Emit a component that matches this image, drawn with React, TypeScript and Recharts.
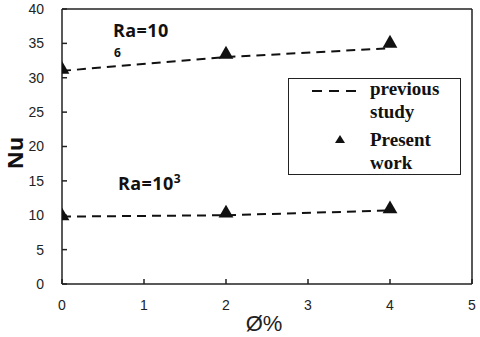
import React from 'react';
import { ComposedChart, Line, Scatter, XAxis, YAxis, ZAxis, ReferenceLine, Customized, Label } from 'recharts';

const phi = [0, 2, 4];
const prevRa6 = [31.0, 33.0, 34.3];
const presRa6 = [31.2, 33.4, 35.0];
const prevRa3 = [9.8, 10.0, 10.7];
const presRa3 = [9.9, 10.3, 10.9];
const xTicks = [0, 1, 2, 3, 4, 5];
const yTicks = [0, 5, 10, 15, 20, 25, 30, 35, 40];
const legendLabels = [['previous', 'study'], ['Present', 'work']];

const toRows = (ys: number[]) => phi.map((x, i) => ({ x, y: ys[i] }));

const axisColor = '#222';
const tickFont = { fontFamily: 'Liberation Sans, Arial, sans-serif', fontSize: 14, fill: '#222' };

const LegendBox = () => (
  <div
    style={{
      position: 'absolute',
      left: 288,
      top: 78,
      width: 173,
      height: 97,
      border: '1.5px solid #222',
      boxSizing: 'border-box',
      background: '#fff',
      fontFamily: 'Liberation Serif, Times New Roman, serif',
      fontWeight: 'bold',
      fontSize: 19,
      color: '#111',
    }}
  >
    <svg width={80} height={95} style={{ position: 'absolute', left: 0, top: 0 }}>
      <line x1={23} x2={70} y1={12} y2={12} stroke="#111" strokeWidth={2} strokeDasharray="10 7" />
      <path d="M51,56 L56,64 L46,64 Z" fill="#111" />
    </svg>
    <div style={{ position: 'absolute', left: 81, top: -2, lineHeight: '23px' }}>
      {legendLabels[0][0]}
      <br />
      {legendLabels[0][1]}
    </div>
    <div style={{ position: 'absolute', left: 81, top: 49, lineHeight: '23px' }}>
      {legendLabels[1][0]}
      <br />
      {legendLabels[1][1]}
    </div>
  </div>
);

const Annotations = () => (
  <g fontFamily="Open Sans, Liberation Sans, sans-serif" fontWeight="bold" fill="#111">
    <text x={113} y={37} fontSize={18} letterSpacing={0.4}>Ra=10</text>
    <text x={114} y={57} fontSize={12}>6</text>
    <text x={118} y={190} fontSize={18} letterSpacing={0.4}>
      Ra=10<tspan dy={-7} fontSize={12}>3</tspan>
    </text>
    <text transform="translate(23,153) rotate(-90)" textAnchor="middle" fontSize={22}>Nu</text>
  </g>
);

export default function App() {
  return (
    <div style={{ position: 'absolute', left: 0, top: 0, width: 480, height: 337, background: '#fff' }}>
      <ComposedChart width={480} height={337} margin={{ top: 9, right: 8, left: 0, bottom: 0 }}>
        <XAxis
          type="number"
          dataKey="x"
          domain={[0, 5]}
          ticks={xTicks}
          allowDataOverflow
          height={53}
          stroke={axisColor}
          strokeWidth={1.5}
          tickSize={-5}
          tickMargin={21}
          tick={tickFont}
          tickLine={{ stroke: axisColor, strokeWidth: 1.5 }}
        >
          <Label
            value="Ø%"
            position="insideBottom"
            offset={6}
            dx={-3}
            style={{ fontFamily: 'Liberation Sans, Arial, sans-serif', fontSize: 22, fill: '#222' }}
          />
        </XAxis>
        <YAxis
          type="number"
          domain={[0, 40]}
          ticks={yTicks}
          width={62}
          stroke={axisColor}
          strokeWidth={1.5}
          tickSize={-5}
          tickMargin={23}
          tick={tickFont}
          tickLine={{ stroke: axisColor, strokeWidth: 1.5 }}
        />
        <ZAxis range={[95, 95]} />
        <ReferenceLine x={5} stroke={axisColor} strokeWidth={1.5} />
        <ReferenceLine y={40} stroke={axisColor} strokeWidth={1.5} />
        <Line data={toRows(prevRa6)} dataKey="y" type="linear" stroke="#111" strokeWidth={2} strokeDasharray="9 6" dot={false} isAnimationActive={false} />
        <Line data={toRows(prevRa3)} dataKey="y" type="linear" stroke="#111" strokeWidth={2} strokeDasharray="9 6" dot={false} isAnimationActive={false} />
        <Scatter data={toRows(presRa6)} dataKey="y" shape="triangle" fill="#111" isAnimationActive={false} />
        <Scatter data={toRows(presRa3)} dataKey="y" shape="triangle" fill="#111" isAnimationActive={false} />
        <Customized component={Annotations} />
      </ComposedChart>
      <LegendBox />
    </div>
  );
}
